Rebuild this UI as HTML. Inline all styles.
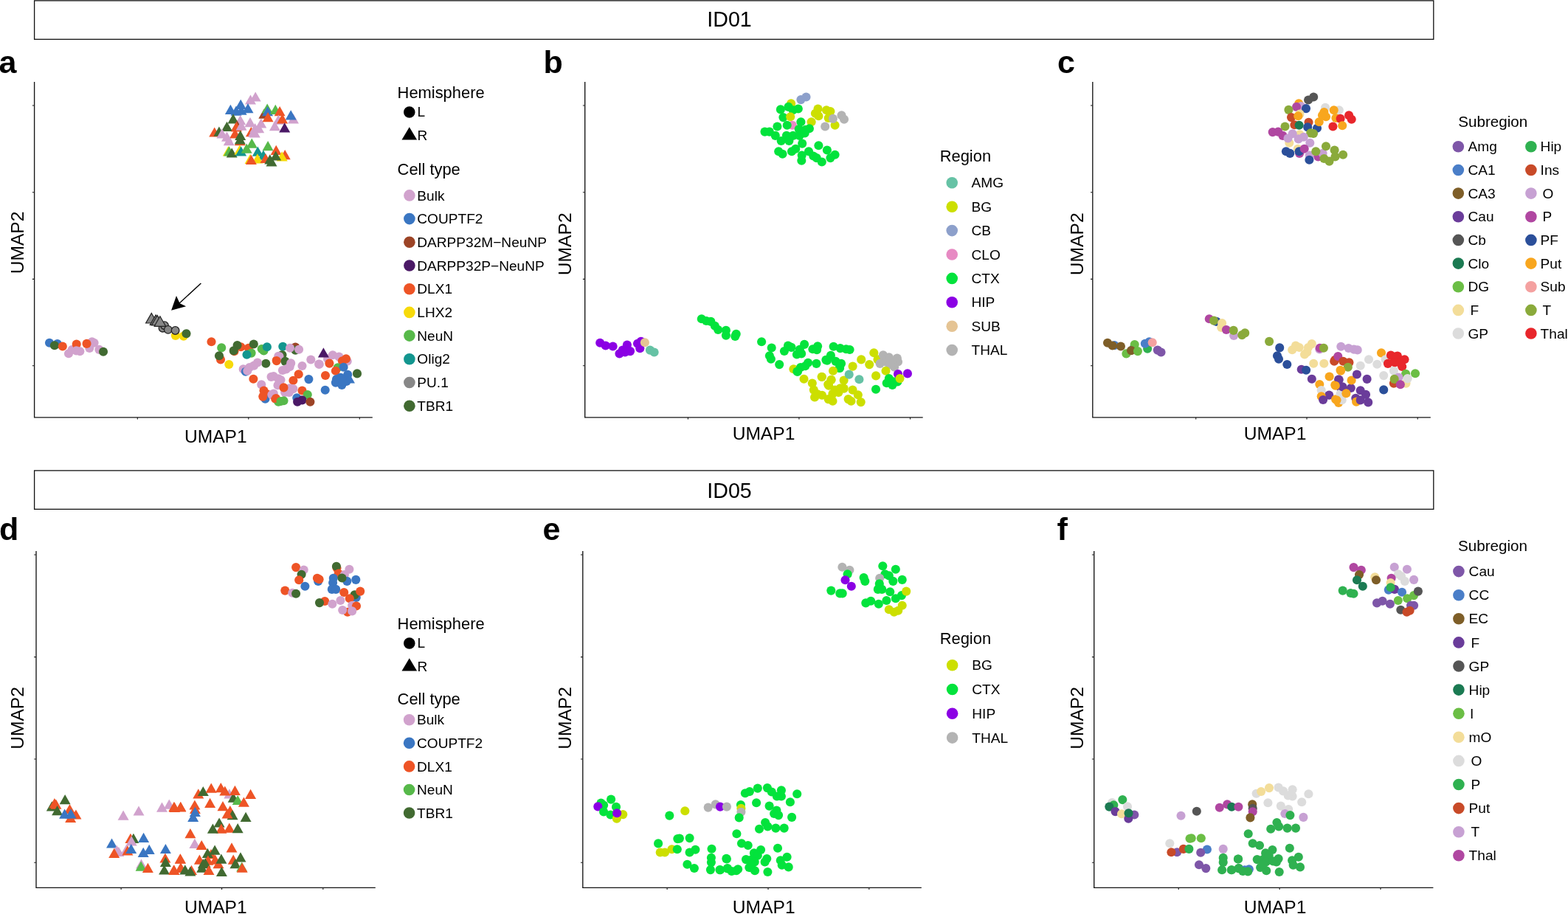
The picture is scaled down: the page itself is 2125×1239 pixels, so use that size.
<!DOCTYPE html>
<html><head><meta charset="utf-8"><title>UMAP figure</title>
<style>html,body{margin:0;padding:0;background:#fff;}svg{display:block;}text{font-family:"Liberation Sans", Arial, sans-serif;fill:#000;}.pl{font-weight:bold;font-size:43px;}.hd{font-size:28.6px;}.ax{font-size:24.6px;}.lt{font-size:21.9px;}.ls{font-size:20.6px;}.li{font-size:19.1px;}</style></head><body>
<svg width="2125" height="1239" viewBox="0 0 2125 1239">
<rect x="0" y="0" width="2125" height="1239" fill="#fff"/>
<rect x="46.6" y="0.9" width="1896.2" height="52.4" fill="none" stroke="#111" stroke-width="1.3"/>
<text class="hd" x="988.5" y="35.5" text-anchor="middle">ID01</text>
<rect x="46.6" y="637.9" width="1896.2" height="52.4" fill="none" stroke="#111" stroke-width="1.3"/>
<text class="hd" x="988.5" y="674.9" text-anchor="middle">ID05</text>
<text class="pl" x="-1.5" y="99">a</text>
<text class="pl" x="736.5" y="99">b</text>
<text class="pl" x="1433" y="99">c</text>
<text class="pl" x="-1.0" y="731.5">d</text>
<text class="pl" x="735.5" y="732">e</text>
<text class="pl" x="1432.5" y="731.5">f</text>
<path d="M46.6 111V565.9H504.8" fill="none" stroke="#151515" stroke-width="1.35"/><path d="M186.3 565.9v2.6M336.8 565.9v2.6M487.3 565.9v2.6M46.6 143h-2.8M46.6 260.7h-2.8M46.6 378.4h-2.8M46.6 495.8h-2.8" fill="none" stroke="#1a1a1a" stroke-width="1.1"/>
<path d="M792.7 111V565.9H1250.7" fill="none" stroke="#151515" stroke-width="1.35"/><path d="M932.4 565.9v2.6M1082.9 565.9v2.6M1233.5 565.9v2.6M792.7 143h-2.8M792.7 260.7h-2.8M792.7 378.4h-2.8M792.7 495.8h-2.8" fill="none" stroke="#1a1a1a" stroke-width="1.1"/>
<path d="M1480.8 111V565.9H1938.8" fill="none" stroke="#151515" stroke-width="1.35"/><path d="M1620.7 565.9v2.6M1771 565.9v2.6M1921.2 565.9v2.6M1480.8 143h-2.8M1480.8 260.7h-2.8M1480.8 378.4h-2.8M1480.8 495.8h-2.8" fill="none" stroke="#1a1a1a" stroke-width="1.1"/>
<path d="M49.0 747V1203.4H508.8" fill="none" stroke="#151515" stroke-width="1.35"/><path d="M164.1 1203.4v2.6M300.6 1203.4v2.6M437.8 1203.4v2.6M49.0 752h-2.8M49.0 890.6h-2.8M49.0 1029h-2.8M49.0 1169.3h-2.8" fill="none" stroke="#1a1a1a" stroke-width="1.1"/>
<path d="M789.8 747V1203.4H1248.8" fill="none" stroke="#151515" stroke-width="1.35"/><path d="M904.1 1203.4v2.6M1041 1203.4v2.6M1177.8 1203.4v2.6M789.8 752h-2.8M789.8 890.6h-2.8M789.8 1029h-2.8M789.8 1169.3h-2.8" fill="none" stroke="#1a1a1a" stroke-width="1.1"/>
<path d="M1482.7 747V1203.4H1942.4" fill="none" stroke="#151515" stroke-width="1.35"/><path d="M1597.2 1203.4v2.6M1734.1 1203.4v2.6M1871 1203.4v2.6M1482.7 752h-2.8M1482.7 890.6h-2.8M1482.7 1029h-2.8M1482.7 1169.3h-2.8" fill="none" stroke="#1a1a1a" stroke-width="1.1"/>
<text class="ax" x="292.3" y="599.6" text-anchor="middle">UMAP1</text>
<text class="ax" x="1035.0" y="595.5" text-anchor="middle">UMAP1</text>
<text class="ax" x="1728.1" y="595.5" text-anchor="middle">UMAP1</text>
<text class="ax" x="292.3" y="1238.3" text-anchor="middle">UMAP1</text>
<text class="ax" x="1035.2" y="1238.3" text-anchor="middle">UMAP1</text>
<text class="ax" x="1728.1" y="1238.3" text-anchor="middle">UMAP1</text>
<text class="ax" x="0" y="0" text-anchor="middle" transform="translate(32.0 329) rotate(-90)">UMAP2</text>
<text class="ax" x="0" y="0" text-anchor="middle" transform="translate(774.2 330.8) rotate(-90)">UMAP2</text>
<text class="ax" x="0" y="0" text-anchor="middle" transform="translate(1467.7 330.8) rotate(-90)">UMAP2</text>
<text class="ax" x="0" y="0" text-anchor="middle" transform="translate(32.2 973.5) rotate(-90)">UMAP2</text>
<text class="ax" x="0" y="0" text-anchor="middle" transform="translate(774.2 973.5) rotate(-90)">UMAP2</text>
<text class="ax" x="0" y="0" text-anchor="middle" transform="translate(1467.7 973.5) rotate(-90)">UMAP2</text>
<path d="M346.2 124.4L353.7 137.6H338.7Z" fill="#D1A2CD"/>
<path d="M339.5 128.4L347.0 141.6H332.0Z" fill="#D1A2CD"/>
<path d="M312.4 141.8L319.9 155.0H304.9Z" fill="#3A76C2"/>
<path d="M320.0 143.5L327.5 156.7H312.5Z" fill="#3A76C2"/>
<path d="M327.1 142.6L334.6 155.8H319.6Z" fill="#3A76C2"/>
<path d="M326.2 134.7L333.7 147.9H318.7Z" fill="#3A76C2"/>
<path d="M336.0 140.0L343.5 153.2H328.5Z" fill="#3A76C2"/>
<path d="M316.0 154.2L323.5 167.4H308.5Z" fill="#416A31"/>
<path d="M325.7 156.0L333.2 169.2H318.2Z" fill="#D1A2CD"/>
<path d="M339.0 159.0L346.5 172.2H331.5Z" fill="#D1A2CD"/>
<path d="M307.5 164.8L315.0 178.0H300.0Z" fill="#416A31"/>
<path d="M321.3 163.3L328.8 176.5H313.8Z" fill="#9C4426"/>
<path d="M320.4 165.3L327.9 178.5H312.9Z" fill="#EE5426"/>
<path d="M327.0 163.5L334.5 176.7H319.5Z" fill="#D1A2CD"/>
<path d="M340.4 172.0L347.9 185.2H332.9Z" fill="#EE5426"/>
<path d="M343.5 172.5L351.0 185.7H336.0Z" fill="#D1A2CD"/>
<path d="M345.7 167.0L353.2 180.2H338.2Z" fill="#D1A2CD"/>
<path d="M353.8 160.4L361.3 173.6H346.3Z" fill="#D1A2CD"/>
<path d="M350.7 167.1L358.2 180.3H343.2Z" fill="#D1A2CD"/>
<path d="M345.3 173.3L352.8 186.5H337.8Z" fill="#D1A2CD"/>
<path d="M290.7 172.4L298.2 185.6H283.2Z" fill="#EE5426"/>
<path d="M296.9 171.5L304.4 184.7H289.4Z" fill="#416A31"/>
<path d="M300.9 174.2L308.4 187.4H293.4Z" fill="#D1A2CD"/>
<path d="M307.5 178.6L315.0 191.8H300.0Z" fill="#D1A2CD"/>
<path d="M318.6 174.2L326.1 187.4H311.1Z" fill="#EE5426"/>
<path d="M325.7 176.8L333.2 190.0H318.2Z" fill="#416A31"/>
<path d="M310.2 184.0L317.7 197.2H302.7Z" fill="#D1A2CD"/>
<path d="M325.3 184.0L332.8 197.2H317.8Z" fill="#EE5426"/>
<path d="M325.3 182.2L332.8 195.4H317.8Z" fill="#416A31"/>
<path d="M357.8 147.5L365.3 160.7H350.3Z" fill="#9C4426"/>
<path d="M362.2 140.4L369.7 153.6H354.7Z" fill="#57B94A"/>
<path d="M362.6 144.0L370.1 157.2H355.1Z" fill="#3A76C2"/>
<path d="M373.3 141.8L380.8 155.0H365.8Z" fill="#57B94A"/>
<path d="M379.1 144.0L386.6 157.2H371.6Z" fill="#EE5426"/>
<path d="M363.1 152.0L370.6 165.2H355.6Z" fill="#EE5426"/>
<path d="M397.5 154.2L405.0 167.4H390.0Z" fill="#D1A2CD"/>
<path d="M394.2 149.3L401.7 162.5H386.7Z" fill="#3A76C2"/>
<path d="M377.3 155.5L384.8 168.7H369.8Z" fill="#D1A2CD"/>
<path d="M382.6 154.2L390.1 167.4H375.1Z" fill="#EE5426"/>
<path d="M372.4 164.0L379.9 177.2H364.9Z" fill="#D1A2CD"/>
<path d="M385.7 166.2L393.2 179.4H378.2Z" fill="#4B1966"/>
<path d="M341.3 187.5L348.8 200.7H333.8Z" fill="#57B94A"/>
<path d="M309.3 198.2L316.8 211.4H301.8Z" fill="#F7DA0A"/>
<path d="M310.6 198.2L318.1 211.4H303.1Z" fill="#57B94A"/>
<path d="M314.2 200.4L321.7 213.6H306.7Z" fill="#416A31"/>
<path d="M324.8 196.4L332.3 209.6H317.3Z" fill="#F7DA0A"/>
<path d="M326.6 198.2L334.1 211.4H319.1Z" fill="#13968F"/>
<path d="M334.2 194.6L341.7 207.8H326.7Z" fill="#57B94A"/>
<path d="M363.1 191.0L370.6 204.2H355.6Z" fill="#57B94A"/>
<path d="M349.3 198.6L356.8 211.8H341.8Z" fill="#13968F"/>
<path d="M356.9 203.5L364.4 216.7H349.4Z" fill="#13968F"/>
<path d="M348.9 208.3L356.4 221.5H341.4Z" fill="#F7DA0A"/>
<path d="M339.1 208.8L346.6 222.0H331.6Z" fill="#F7DA0A"/>
<path d="M340.4 209.7L347.9 222.9H332.9Z" fill="#EE5426"/>
<path d="M374.2 196.8L381.7 210.0H366.7Z" fill="#EE5426"/>
<path d="M386.2 203.0L393.7 216.2H378.7Z" fill="#EE5426"/>
<path d="M382.2 205.3L389.7 218.5H374.7Z" fill="#F7DA0A"/>
<path d="M373.7 204.4L381.2 217.6H366.2Z" fill="#416A31"/>
<path d="M360.0 207.9L367.5 221.1H352.5Z" fill="#EE5426"/>
<path d="M365.8 209.3L373.3 222.5H358.3Z" fill="#416A31"/>
<path d="M368.0 212.4L375.5 225.6H360.5Z" fill="#416A31"/>
<circle cx="67.0" cy="464.7" r="6.05" fill="#3A76C2"/>
<circle cx="77.8" cy="466.1" r="6.05" fill="#3A76C2"/>
<circle cx="73.9" cy="468.3" r="6.05" fill="#416A31"/>
<circle cx="84.8" cy="469.5" r="6.05" fill="#EE5426"/>
<circle cx="93.0" cy="479.2" r="6.05" fill="#D1A2CD"/>
<circle cx="97.6" cy="474.0" r="6.05" fill="#D1A2CD"/>
<circle cx="103.7" cy="466.6" r="6.05" fill="#EE5426"/>
<circle cx="103.4" cy="475.4" r="6.05" fill="#D1A2CD"/>
<circle cx="108.3" cy="476.3" r="6.05" fill="#D1A2CD"/>
<circle cx="124.7" cy="463.2" r="6.05" fill="#D1A2CD"/>
<circle cx="127.6" cy="464.7" r="6.05" fill="#D1A2CD"/>
<circle cx="121.3" cy="472.0" r="6.05" fill="#D1A2CD"/>
<circle cx="117.5" cy="465.9" r="6.05" fill="#EE5426"/>
<circle cx="134.4" cy="473.9" r="6.05" fill="#D1A2CD"/>
<circle cx="140.0" cy="476.8" r="6.05" fill="#416A31"/>
<circle cx="237.9" cy="454.9" r="6.05" fill="#F7DA0A"/>
<circle cx="248.8" cy="455.6" r="6.05" fill="#F7DA0A"/>
<circle cx="252.5" cy="452.3" r="6.05" fill="#416A31"/>
<circle cx="220.5" cy="444.7" r="5.3" fill="#878787" stroke="#222" stroke-width="1.3"/>
<circle cx="223.0" cy="441.2" r="5.3" fill="#878787" stroke="#222" stroke-width="1.3"/>
<path d="M205.3 424.5L213.1 438.0H197.6Z" fill="#878787" stroke="#222" stroke-width="1.2" stroke-linejoin="miter"/>
<path d="M211.1 427.0L218.8 440.5H203.3Z" fill="#878787" stroke="#222" stroke-width="1.2" stroke-linejoin="miter"/>
<path d="M213.2 427.4L220.9 440.9H205.4Z" fill="#878787" stroke="#222" stroke-width="1.2" stroke-linejoin="miter"/>
<path d="M216.9 428.8L224.7 442.3H209.2Z" fill="#878787" stroke="#222" stroke-width="1.2" stroke-linejoin="miter"/>
<circle cx="227.8" cy="446.9" r="5.3" fill="#878787" stroke="#222" stroke-width="1.3"/>
<circle cx="237.6" cy="448.0" r="5.3" fill="#878787" stroke="#222" stroke-width="1.3"/>
<circle cx="286.5" cy="463.3" r="6.05" fill="#EE5426"/>
<circle cx="300.2" cy="471.4" r="6.05" fill="#57B94A"/>
<circle cx="299.0" cy="487.5" r="6.05" fill="#EE5426"/>
<circle cx="297.0" cy="482.3" r="6.05" fill="#416A31"/>
<circle cx="310.3" cy="494.0" r="6.05" fill="#F7DA0A"/>
<circle cx="317.5" cy="476.2" r="6.05" fill="#EE5426"/>
<circle cx="326.4" cy="470.2" r="6.05" fill="#EE5426"/>
<circle cx="321.6" cy="468.1" r="6.05" fill="#416A31"/>
<circle cx="316.7" cy="475.4" r="6.05" fill="#416A31"/>
<circle cx="336.9" cy="471.8" r="6.05" fill="#EE5426"/>
<circle cx="343.8" cy="466.5" r="6.05" fill="#416A31"/>
<circle cx="340.6" cy="478.6" r="6.05" fill="#57B94A"/>
<circle cx="334.5" cy="480.7" r="6.05" fill="#13968F"/>
<circle cx="354.7" cy="473.0" r="6.05" fill="#57B94A"/>
<circle cx="357.5" cy="475.5" r="6.05" fill="#57B94A"/>
<circle cx="361.9" cy="470.2" r="6.05" fill="#13968F"/>
<circle cx="360.3" cy="492.8" r="6.05" fill="#416A31"/>
<circle cx="349.0" cy="491.5" r="6.05" fill="#D1A2CD"/>
<circle cx="344.2" cy="495.6" r="6.05" fill="#D1A2CD"/>
<circle cx="338.1" cy="498.0" r="6.05" fill="#D1A2CD"/>
<circle cx="329.7" cy="500.4" r="6.05" fill="#D1A2CD"/>
<circle cx="332.9" cy="503.7" r="6.05" fill="#3A76C2"/>
<circle cx="335.3" cy="502.8" r="6.05" fill="#D1A2CD"/>
<circle cx="343.4" cy="513.7" r="6.05" fill="#EE5426"/>
<circle cx="367.6" cy="510.9" r="6.05" fill="#D1A2CD"/>
<circle cx="354.3" cy="521.4" r="6.05" fill="#D1A2CD"/>
<circle cx="357.5" cy="529.5" r="6.05" fill="#EE5426"/>
<circle cx="361.9" cy="534.3" r="6.05" fill="#EE5426"/>
<circle cx="359.5" cy="540.8" r="6.05" fill="#3A76C2"/>
<circle cx="356.3" cy="537.6" r="6.05" fill="#EE5426"/>
<circle cx="368.4" cy="535.1" r="6.05" fill="#D1A2CD"/>
<circle cx="373.2" cy="540.8" r="6.05" fill="#EE5426"/>
<circle cx="377.3" cy="544.8" r="6.05" fill="#57B94A"/>
<circle cx="374.9" cy="488.3" r="6.05" fill="#EE5426"/>
<circle cx="377.3" cy="482.7" r="6.05" fill="#D1A2CD"/>
<circle cx="376.5" cy="522.2" r="6.05" fill="#D1A2CD"/>
<circle cx="377.3" cy="513.3" r="6.05" fill="#D1A2CD"/>
<circle cx="383.3" cy="469.8" r="6.05" fill="#13968F"/>
<circle cx="400.3" cy="470.6" r="6.05" fill="#9C4426"/>
<circle cx="400.3" cy="474.6" r="6.05" fill="#416A31"/>
<circle cx="393.0" cy="471.8" r="6.05" fill="#D1A2CD"/>
<circle cx="405.1" cy="473.8" r="6.05" fill="#D1A2CD"/>
<circle cx="382.5" cy="481.1" r="6.05" fill="#416A31"/>
<circle cx="378.5" cy="483.1" r="6.05" fill="#D1A2CD"/>
<circle cx="374.8" cy="489.1" r="6.05" fill="#EE5426"/>
<circle cx="386.5" cy="489.9" r="6.05" fill="#416A31"/>
<circle cx="394.2" cy="492.4" r="6.05" fill="#D1A2CD"/>
<circle cx="392.6" cy="497.2" r="6.05" fill="#D1A2CD"/>
<circle cx="387.8" cy="500.4" r="6.05" fill="#D1A2CD"/>
<circle cx="382.9" cy="502.0" r="6.05" fill="#D1A2CD"/>
<circle cx="409.5" cy="496.0" r="6.05" fill="#D1A2CD"/>
<circle cx="421.3" cy="487.5" r="6.05" fill="#D1A2CD"/>
<circle cx="432.1" cy="493.6" r="6.05" fill="#D1A2CD"/>
<circle cx="450.9" cy="481.3" r="6.05" fill="#D1A2CD"/>
<circle cx="459.4" cy="483.6" r="6.05" fill="#D1A2CD"/>
<circle cx="444.1" cy="486.4" r="6.05" fill="#D1A2CD"/>
<circle cx="470.7" cy="489.8" r="6.05" fill="#D1A2CD"/>
<circle cx="432.8" cy="493.7" r="6.05" fill="#D1A2CD"/>
<circle cx="446.4" cy="492.6" r="6.05" fill="#EE5426"/>
<circle cx="463.9" cy="489.2" r="6.05" fill="#EE5426"/>
<circle cx="469.0" cy="486.4" r="6.05" fill="#EE5426"/>
<circle cx="457.7" cy="498.2" r="6.05" fill="#57B94A"/>
<circle cx="465.6" cy="497.7" r="6.05" fill="#3A76C2"/>
<circle cx="454.9" cy="502.8" r="6.05" fill="#EE5426"/>
<circle cx="441.0" cy="509.0" r="6.05" fill="#EE5426"/>
<circle cx="404.7" cy="507.3" r="6.05" fill="#EE5426"/>
<circle cx="397.4" cy="515.8" r="6.05" fill="#EE5426"/>
<circle cx="418.4" cy="514.1" r="6.05" fill="#3A76C2"/>
<circle cx="471.2" cy="507.9" r="6.05" fill="#3A76C2"/>
<circle cx="456.0" cy="514.1" r="6.05" fill="#3A76C2"/>
<circle cx="461.6" cy="511.8" r="6.05" fill="#3A76C2"/>
<circle cx="454.9" cy="518.6" r="6.05" fill="#3A76C2"/>
<circle cx="463.3" cy="522.0" r="6.05" fill="#3A76C2"/>
<circle cx="469.5" cy="516.9" r="6.05" fill="#3A76C2"/>
<circle cx="464.8" cy="517.4" r="6.05" fill="#3A76C2"/>
<circle cx="484.0" cy="506.4" r="6.05" fill="#416A31"/>
<circle cx="440.7" cy="528.8" r="6.05" fill="#3A76C2"/>
<circle cx="370.8" cy="510.1" r="6.05" fill="#D1A2CD"/>
<circle cx="380.5" cy="515.0" r="6.05" fill="#D1A2CD"/>
<circle cx="377.3" cy="521.4" r="6.05" fill="#D1A2CD"/>
<circle cx="392.6" cy="526.3" r="6.05" fill="#D1A2CD"/>
<circle cx="397.4" cy="527.1" r="6.05" fill="#D1A2CD"/>
<circle cx="386.1" cy="531.9" r="6.05" fill="#D1A2CD"/>
<circle cx="391.8" cy="531.9" r="6.05" fill="#D1A2CD"/>
<circle cx="384.5" cy="525.4" r="6.05" fill="#EE5426"/>
<circle cx="370.8" cy="533.5" r="6.05" fill="#D1A2CD"/>
<circle cx="409.5" cy="529.5" r="6.05" fill="#EE5426"/>
<circle cx="416.8" cy="535.1" r="6.05" fill="#57B94A"/>
<circle cx="402.3" cy="539.2" r="6.05" fill="#3A76C2"/>
<circle cx="409.5" cy="542.4" r="6.05" fill="#4B1966"/>
<circle cx="403.1" cy="544.8" r="6.05" fill="#4B1966"/>
<circle cx="420.4" cy="544.8" r="6.05" fill="#9C4426"/>
<circle cx="374.0" cy="540.0" r="6.05" fill="#EE5426"/>
<circle cx="380.5" cy="544.0" r="6.05" fill="#57B94A"/>
<circle cx="384.5" cy="543.2" r="6.05" fill="#57B94A"/>
<path d="M438.4 471.3L445.9 484.5H430.9Z" fill="#4B1966"/>
<path d="M473.5 506.3L481.0 519.5H466.0Z" fill="#3A76C2"/>
<circle cx="1085.4" cy="135.1" r="6.05" fill="#8DA0CB"/>
<circle cx="1092.5" cy="131.5" r="6.05" fill="#8DA0CB"/>
<circle cx="1072.1" cy="140.4" r="6.05" fill="#CCDF00"/>
<circle cx="1057.9" cy="148.4" r="6.05" fill="#03E33C"/>
<circle cx="1068.5" cy="144.9" r="6.05" fill="#03E33C"/>
<circle cx="1074.7" cy="149.3" r="6.05" fill="#03E33C"/>
<circle cx="1081.8" cy="147.5" r="6.05" fill="#03E33C"/>
<circle cx="1061.4" cy="159.1" r="6.05" fill="#03E33C"/>
<circle cx="1071.2" cy="158.2" r="6.05" fill="#CCDF00"/>
<circle cx="1073.8" cy="169.7" r="6.05" fill="#E78AC3"/>
<circle cx="1066.7" cy="169.7" r="6.05" fill="#03E33C"/>
<circle cx="1085.4" cy="165.3" r="6.05" fill="#03E33C"/>
<circle cx="1053.4" cy="171.5" r="6.05" fill="#03E33C"/>
<circle cx="1036.5" cy="178.6" r="6.05" fill="#03E33C"/>
<circle cx="1042.8" cy="178.6" r="6.05" fill="#03E33C"/>
<circle cx="1050.8" cy="183.9" r="6.05" fill="#03E33C"/>
<circle cx="1058.7" cy="191.0" r="6.05" fill="#03E33C"/>
<circle cx="1065.9" cy="183.9" r="6.05" fill="#03E33C"/>
<circle cx="1069.4" cy="191.0" r="6.05" fill="#03E33C"/>
<circle cx="1074.7" cy="183.9" r="6.05" fill="#03E33C"/>
<circle cx="1082.7" cy="175.1" r="6.05" fill="#03E33C"/>
<circle cx="1083.6" cy="183.9" r="6.05" fill="#03E33C"/>
<circle cx="1099.6" cy="165.3" r="6.05" fill="#CCDF00"/>
<circle cx="1090.7" cy="180.4" r="6.05" fill="#03E33C"/>
<circle cx="1096.9" cy="174.2" r="6.05" fill="#03E33C"/>
<circle cx="1087.2" cy="194.6" r="6.05" fill="#03E33C"/>
<circle cx="1055.2" cy="205.3" r="6.05" fill="#03E33C"/>
<circle cx="1060.5" cy="208.8" r="6.05" fill="#03E33C"/>
<circle cx="1073.0" cy="205.3" r="6.05" fill="#03E33C"/>
<circle cx="1078.3" cy="201.7" r="6.05" fill="#03E33C"/>
<circle cx="1086.3" cy="217.7" r="6.05" fill="#03E33C"/>
<circle cx="1096.0" cy="205.3" r="6.05" fill="#03E33C"/>
<circle cx="1102.3" cy="211.5" r="6.05" fill="#03E33C"/>
<circle cx="1109.4" cy="197.3" r="6.05" fill="#03E33C"/>
<circle cx="1113.8" cy="219.5" r="6.05" fill="#03E33C"/>
<circle cx="1120.9" cy="203.5" r="6.05" fill="#03E33C"/>
<circle cx="1131.6" cy="209.7" r="6.05" fill="#03E33C"/>
<circle cx="1125.4" cy="214.1" r="6.05" fill="#03E33C"/>
<circle cx="1106.7" cy="214.1" r="6.05" fill="#03E33C"/>
<circle cx="1086.7" cy="210.6" r="6.05" fill="#03E33C"/>
<circle cx="1091.8" cy="175.8" r="6.05" fill="#03E33C"/>
<circle cx="1108.5" cy="147.5" r="6.05" fill="#CCDF00"/>
<circle cx="1104.9" cy="153.7" r="6.05" fill="#CCDF00"/>
<circle cx="1109.4" cy="157.3" r="6.05" fill="#CCDF00"/>
<circle cx="1120.0" cy="149.3" r="6.05" fill="#CCDF00"/>
<circle cx="1125.4" cy="151.1" r="6.05" fill="#CCDF00"/>
<circle cx="1122.7" cy="160.0" r="6.05" fill="#CCDF00"/>
<circle cx="1131.6" cy="169.7" r="6.05" fill="#CCDF00"/>
<circle cx="1118.2" cy="171.5" r="6.05" fill="#B3B3B3"/>
<circle cx="1128.9" cy="160.9" r="6.05" fill="#B3B3B3"/>
<circle cx="1140.5" cy="156.4" r="6.05" fill="#B3B3B3"/>
<circle cx="1144.0" cy="161.7" r="6.05" fill="#B3B3B3"/>
<circle cx="813.2" cy="464.8" r="6.05" fill="#8B00E4"/>
<circle cx="820.7" cy="468.5" r="6.05" fill="#8B00E4"/>
<circle cx="830.6" cy="469.5" r="6.05" fill="#8B00E4"/>
<circle cx="839.5" cy="479.4" r="6.05" fill="#8B00E4"/>
<circle cx="843.8" cy="474.6" r="6.05" fill="#8B00E4"/>
<circle cx="849.9" cy="467.6" r="6.05" fill="#8B00E4"/>
<circle cx="847.1" cy="477.5" r="6.05" fill="#8B00E4"/>
<circle cx="854.1" cy="476.1" r="6.05" fill="#8B00E4"/>
<circle cx="864.0" cy="465.7" r="6.05" fill="#8B00E4"/>
<circle cx="868.7" cy="462.9" r="6.05" fill="#8B00E4"/>
<circle cx="867.3" cy="472.3" r="6.05" fill="#8B00E4"/>
<circle cx="873.9" cy="464.3" r="6.05" fill="#E5C494"/>
<circle cx="880.9" cy="474.6" r="6.05" fill="#66C2A5"/>
<circle cx="886.6" cy="477.5" r="6.05" fill="#66C2A5"/>
<circle cx="950.8" cy="432.3" r="6.05" fill="#03E33C"/>
<circle cx="957.2" cy="435.0" r="6.05" fill="#03E33C"/>
<circle cx="963.4" cy="435.9" r="6.05" fill="#03E33C"/>
<circle cx="968.8" cy="441.7" r="6.05" fill="#03E33C"/>
<circle cx="973.2" cy="447.0" r="6.05" fill="#03E33C"/>
<circle cx="983.9" cy="447.9" r="6.05" fill="#03E33C"/>
<circle cx="983.9" cy="454.6" r="6.05" fill="#03E33C"/>
<circle cx="997.7" cy="452.8" r="6.05" fill="#03E33C"/>
<circle cx="996.3" cy="455.9" r="6.05" fill="#03E33C"/>
<circle cx="1032.1" cy="463.3" r="6.05" fill="#03E33C"/>
<circle cx="1045.7" cy="471.5" r="6.05" fill="#03E33C"/>
<circle cx="1042.9" cy="482.2" r="6.05" fill="#03E33C"/>
<circle cx="1044.9" cy="486.7" r="6.05" fill="#03E33C"/>
<circle cx="1056.2" cy="494.1" r="6.05" fill="#03E33C"/>
<circle cx="1062.9" cy="476.0" r="6.05" fill="#03E33C"/>
<circle cx="1068.0" cy="468.6" r="6.05" fill="#03E33C"/>
<circle cx="1072.5" cy="470.9" r="6.05" fill="#03E33C"/>
<circle cx="1079.9" cy="480.5" r="6.05" fill="#03E33C"/>
<circle cx="1083.8" cy="473.7" r="6.05" fill="#03E33C"/>
<circle cx="1090.1" cy="466.9" r="6.05" fill="#03E33C"/>
<circle cx="1086.1" cy="479.4" r="6.05" fill="#03E33C"/>
<circle cx="1101.4" cy="473.2" r="6.05" fill="#03E33C"/>
<circle cx="1108.1" cy="469.2" r="6.05" fill="#03E33C"/>
<circle cx="1107.0" cy="474.3" r="6.05" fill="#03E33C"/>
<circle cx="1075.4" cy="500.3" r="6.05" fill="#CCDF00"/>
<circle cx="1095.1" cy="491.8" r="6.05" fill="#03E33C"/>
<circle cx="1106.4" cy="492.9" r="6.05" fill="#03E33C"/>
<circle cx="1085.0" cy="498.0" r="6.05" fill="#03E33C"/>
<circle cx="1081.0" cy="503.7" r="6.05" fill="#03E33C"/>
<circle cx="1091.2" cy="496.3" r="6.05" fill="#03E33C"/>
<circle cx="1080.4" cy="503.6" r="6.05" fill="#03E33C"/>
<circle cx="1119.4" cy="487.9" r="6.05" fill="#03E33C"/>
<circle cx="1129.6" cy="469.7" r="6.05" fill="#03E33C"/>
<circle cx="1138.7" cy="472.1" r="6.05" fill="#03E33C"/>
<circle cx="1146.7" cy="473.3" r="6.05" fill="#03E33C"/>
<circle cx="1151.6" cy="474.0" r="6.05" fill="#03E33C"/>
<circle cx="1125.9" cy="481.9" r="6.05" fill="#03E33C"/>
<circle cx="1121.0" cy="488.6" r="6.05" fill="#03E33C"/>
<circle cx="1132.6" cy="489.9" r="6.05" fill="#03E33C"/>
<circle cx="1140.0" cy="492.9" r="6.05" fill="#03E33C"/>
<circle cx="1138.1" cy="499.0" r="6.05" fill="#03E33C"/>
<circle cx="1137.7" cy="499.0" r="6.05" fill="#03E33C"/>
<circle cx="1129.0" cy="502.7" r="6.05" fill="#CCDF00"/>
<circle cx="1113.7" cy="510.7" r="6.05" fill="#CCDF00"/>
<circle cx="1089.5" cy="513.8" r="6.05" fill="#CCDF00"/>
<circle cx="1113.8" cy="511.0" r="6.05" fill="#CCDF00"/>
<circle cx="1100.8" cy="519.5" r="6.05" fill="#CCDF00"/>
<circle cx="1102.8" cy="528.6" r="6.05" fill="#CCDF00"/>
<circle cx="1104.1" cy="538.5" r="6.05" fill="#CCDF00"/>
<circle cx="1114.0" cy="535.8" r="6.05" fill="#CCDF00"/>
<circle cx="1122.6" cy="541.1" r="6.05" fill="#CCDF00"/>
<circle cx="1128.5" cy="543.7" r="6.05" fill="#CCDF00"/>
<circle cx="1126.5" cy="514.8" r="6.05" fill="#CCDF00"/>
<circle cx="1123.2" cy="522.7" r="6.05" fill="#CCDF00"/>
<circle cx="1131.8" cy="528.6" r="6.05" fill="#CCDF00"/>
<circle cx="1136.4" cy="531.9" r="6.05" fill="#CCDF00"/>
<circle cx="1122.2" cy="521.1" r="6.05" fill="#CCDF00"/>
<circle cx="1126.5" cy="515.0" r="6.05" fill="#CCDF00"/>
<circle cx="1143.6" cy="515.6" r="6.05" fill="#CCDF00"/>
<circle cx="1143.7" cy="526.6" r="6.05" fill="#CCDF00"/>
<circle cx="1155.5" cy="528.6" r="6.05" fill="#CCDF00"/>
<circle cx="1162.8" cy="535.2" r="6.05" fill="#CCDF00"/>
<circle cx="1149.6" cy="541.1" r="6.05" fill="#CCDF00"/>
<circle cx="1153.5" cy="543.7" r="6.05" fill="#CCDF00"/>
<circle cx="1166.7" cy="545.1" r="6.05" fill="#CCDF00"/>
<circle cx="1108.0" cy="534.3" r="6.05" fill="#CCDF00"/>
<circle cx="1138.7" cy="526.3" r="6.05" fill="#CCDF00"/>
<circle cx="1128.4" cy="533.9" r="6.05" fill="#CCDF00"/>
<circle cx="1150.7" cy="507.6" r="6.05" fill="#66C2A5"/>
<circle cx="1164.4" cy="514.3" r="6.05" fill="#66C2A5"/>
<circle cx="1155.6" cy="496.6" r="6.05" fill="#CCDF00"/>
<circle cx="1167.2" cy="487.4" r="6.05" fill="#CCDF00"/>
<circle cx="1178.2" cy="494.1" r="6.05" fill="#CCDF00"/>
<circle cx="1184.3" cy="478.2" r="6.05" fill="#CCDF00"/>
<circle cx="1189.5" cy="487.4" r="6.05" fill="#CCDF00"/>
<circle cx="1196.9" cy="481.3" r="6.05" fill="#B3B3B3"/>
<circle cx="1204.8" cy="484.4" r="6.05" fill="#B3B3B3"/>
<circle cx="1215.8" cy="485.6" r="6.05" fill="#B3B3B3"/>
<circle cx="1217.0" cy="490.5" r="6.05" fill="#B3B3B3"/>
<circle cx="1192.6" cy="492.9" r="6.05" fill="#B3B3B3"/>
<circle cx="1205.4" cy="494.1" r="6.05" fill="#B3B3B3"/>
<circle cx="1212.1" cy="497.8" r="6.05" fill="#B3B3B3"/>
<circle cx="1198.2" cy="488.7" r="6.05" fill="#B3B3B3"/>
<circle cx="1209.5" cy="488.7" r="6.05" fill="#B3B3B3"/>
<circle cx="1200.9" cy="490.8" r="6.05" fill="#B3B3B3"/>
<circle cx="1206.7" cy="493.2" r="6.05" fill="#B3B3B3"/>
<circle cx="1200.5" cy="502.7" r="6.05" fill="#CCDF00"/>
<circle cx="1187.1" cy="509.4" r="6.05" fill="#CCDF00"/>
<circle cx="1187.0" cy="527.8" r="6.05" fill="#03E33C"/>
<circle cx="1217.0" cy="507.0" r="6.05" fill="#8B00E4"/>
<circle cx="1229.9" cy="506.4" r="6.05" fill="#8B00E4"/>
<circle cx="1204.8" cy="513.1" r="6.05" fill="#03E33C"/>
<circle cx="1201.7" cy="519.2" r="6.05" fill="#03E33C"/>
<circle cx="1210.9" cy="517.4" r="6.05" fill="#03E33C"/>
<circle cx="1209.4" cy="522.0" r="6.05" fill="#03E33C"/>
<circle cx="1216.3" cy="517.5" r="6.05" fill="#03E33C"/>
<circle cx="1219.5" cy="513.1" r="6.05" fill="#CCDF00"/>
<circle cx="1773.1" cy="135.5" r="6.05" fill="#555555"/>
<circle cx="1780.2" cy="131.5" r="6.05" fill="#555555"/>
<circle cx="1760.2" cy="140.4" r="6.05" fill="#F8A61E"/>
<circle cx="1763.3" cy="144.0" r="6.05" fill="#C7A1D3"/>
<circle cx="1757.1" cy="144.9" r="6.05" fill="#B047A1"/>
<circle cx="1770.0" cy="147.1" r="6.05" fill="#2B4F9A"/>
<circle cx="1746.4" cy="148.9" r="6.05" fill="#8AAA3B"/>
<circle cx="1761.5" cy="154.6" r="6.05" fill="#F3DD99"/>
<circle cx="1750.0" cy="159.1" r="6.05" fill="#C84A28"/>
<circle cx="1759.3" cy="157.3" r="6.05" fill="#F8A61E"/>
<circle cx="1754.4" cy="169.3" r="6.05" fill="#C84A28"/>
<circle cx="1760.6" cy="169.7" r="6.05" fill="#1B7A52"/>
<circle cx="1773.5" cy="165.7" r="6.05" fill="#C84A28"/>
<circle cx="1741.5" cy="171.5" r="6.05" fill="#8AAA3B"/>
<circle cx="1772.2" cy="172.4" r="6.05" fill="#2B4F9A"/>
<circle cx="1785.0" cy="173.7" r="6.05" fill="#2B4F9A"/>
<circle cx="1776.2" cy="180.4" r="6.05" fill="#8AAA3B"/>
<circle cx="1780.0" cy="181.0" r="6.05" fill="#8AAA3B"/>
<circle cx="1787.7" cy="165.3" r="6.05" fill="#F8A61E"/>
<circle cx="1796.1" cy="145.8" r="6.05" fill="#DCDCDC"/>
<circle cx="1814.8" cy="149.3" r="6.05" fill="#DCDCDC"/>
<circle cx="1794.4" cy="152.0" r="6.05" fill="#F8A61E"/>
<circle cx="1797.0" cy="158.2" r="6.05" fill="#F8A61E"/>
<circle cx="1807.7" cy="149.3" r="6.05" fill="#F8A61E"/>
<circle cx="1792.0" cy="156.3" r="6.05" fill="#F8A61E"/>
<circle cx="1810.4" cy="160.0" r="6.05" fill="#F8A61E"/>
<circle cx="1816.6" cy="160.9" r="6.05" fill="#E8262B"/>
<circle cx="1828.1" cy="156.4" r="6.05" fill="#E8262B"/>
<circle cx="1831.7" cy="161.7" r="6.05" fill="#E8262B"/>
<circle cx="1819.2" cy="170.2" r="6.05" fill="#F8A61E"/>
<circle cx="1806.4" cy="171.5" r="6.05" fill="#E8262B"/>
<circle cx="1724.7" cy="179.1" r="6.05" fill="#B047A1"/>
<circle cx="1732.2" cy="178.6" r="6.05" fill="#B047A1"/>
<circle cx="1738.4" cy="183.9" r="6.05" fill="#B047A1"/>
<circle cx="1747.3" cy="193.7" r="6.05" fill="#F3DD99"/>
<circle cx="1761.5" cy="182.2" r="6.05" fill="#F3DD99"/>
<circle cx="1745.5" cy="187.5" r="6.05" fill="#C7A1D3"/>
<circle cx="1751.7" cy="181.3" r="6.05" fill="#C7A1D3"/>
<circle cx="1759.7" cy="188.4" r="6.05" fill="#C7A1D3"/>
<circle cx="1766.8" cy="185.7" r="6.05" fill="#C7A1D3"/>
<circle cx="1775.3" cy="193.7" r="6.05" fill="#C7A1D3"/>
<circle cx="1758.8" cy="201.7" r="6.05" fill="#F3DD99"/>
<circle cx="1742.9" cy="205.3" r="6.05" fill="#2B4F9A"/>
<circle cx="1748.2" cy="207.9" r="6.05" fill="#2B4F9A"/>
<circle cx="1761.1" cy="207.9" r="6.05" fill="#B047A1"/>
<circle cx="1760.6" cy="205.3" r="6.05" fill="#2B4F9A"/>
<circle cx="1767.7" cy="201.7" r="6.05" fill="#B047A1"/>
<circle cx="1774.8" cy="210.6" r="6.05" fill="#C7A1D3"/>
<circle cx="1774.4" cy="216.8" r="6.05" fill="#2B4F9A"/>
<circle cx="1786.4" cy="212.4" r="6.05" fill="#B047A1"/>
<circle cx="1792.6" cy="207.9" r="6.05" fill="#C7A1D3"/>
<circle cx="1783.3" cy="205.3" r="6.05" fill="#8AAA3B"/>
<circle cx="1797.0" cy="198.2" r="6.05" fill="#8AAA3B"/>
<circle cx="1808.6" cy="203.5" r="6.05" fill="#8AAA3B"/>
<circle cx="1794.4" cy="215.0" r="6.05" fill="#8AAA3B"/>
<circle cx="1801.5" cy="218.6" r="6.05" fill="#8AAA3B"/>
<circle cx="1809.5" cy="212.4" r="6.05" fill="#8AAA3B"/>
<circle cx="1820.1" cy="209.7" r="6.05" fill="#8AAA3B"/>
<circle cx="1501.0" cy="464.8" r="6.05" fill="#7E5E28"/>
<circle cx="1510.4" cy="468.1" r="6.05" fill="#4A7EC8"/>
<circle cx="1507.6" cy="468.5" r="6.05" fill="#7E5E28"/>
<circle cx="1518.9" cy="469.5" r="6.05" fill="#7E5E28"/>
<circle cx="1536.8" cy="471.4" r="6.05" fill="#4A7EC8"/>
<circle cx="1537.7" cy="467.1" r="6.05" fill="#6BBE45"/>
<circle cx="1526.4" cy="479.4" r="6.05" fill="#6BBE45"/>
<circle cx="1533.0" cy="475.1" r="6.05" fill="#7E5E28"/>
<circle cx="1541.9" cy="476.1" r="6.05" fill="#6BBE45"/>
<circle cx="1555.1" cy="472.8" r="6.05" fill="#2FB150"/>
<circle cx="1551.8" cy="465.7" r="6.05" fill="#4A7EC8"/>
<circle cx="1557.5" cy="463.4" r="6.05" fill="#4A7EC8"/>
<circle cx="1561.7" cy="464.3" r="6.05" fill="#F4A1A0"/>
<circle cx="1568.8" cy="474.6" r="6.05" fill="#7E56A8"/>
<circle cx="1573.5" cy="477.5" r="6.05" fill="#7E56A8"/>
<circle cx="1638.8" cy="432.3" r="6.05" fill="#B047A1"/>
<circle cx="1648.6" cy="435.9" r="6.05" fill="#2B4F9A"/>
<circle cx="1645.0" cy="434.6" r="6.05" fill="#8AAA3B"/>
<circle cx="1656.1" cy="438.1" r="6.05" fill="#F3DD99"/>
<circle cx="1655.2" cy="443.9" r="6.05" fill="#F3DD99"/>
<circle cx="1661.9" cy="447.0" r="6.05" fill="#B047A1"/>
<circle cx="1672.1" cy="455.0" r="6.05" fill="#C7A1D3"/>
<circle cx="1671.7" cy="447.9" r="6.05" fill="#8AAA3B"/>
<circle cx="1683.2" cy="454.1" r="6.05" fill="#8AAA3B"/>
<circle cx="1687.2" cy="451.4" r="6.05" fill="#8AAA3B"/>
<circle cx="1720.1" cy="462.9" r="6.05" fill="#8AAA3B"/>
<circle cx="1734.2" cy="471.4" r="6.05" fill="#2B4F9A"/>
<circle cx="1731.0" cy="482.3" r="6.05" fill="#2B4F9A"/>
<circle cx="1733.0" cy="486.7" r="6.05" fill="#2B4F9A"/>
<circle cx="1744.3" cy="494.0" r="6.05" fill="#2B4F9A"/>
<circle cx="1751.2" cy="474.2" r="6.05" fill="#F3DD99"/>
<circle cx="1756.0" cy="468.6" r="6.05" fill="#F3DD99"/>
<circle cx="1760.8" cy="471.0" r="6.05" fill="#F3DD99"/>
<circle cx="1771.3" cy="477.4" r="6.05" fill="#F3DD99"/>
<circle cx="1768.0" cy="480.5" r="6.05" fill="#F3DD99"/>
<circle cx="1777.8" cy="466.1" r="6.05" fill="#F3DD99"/>
<circle cx="1773.0" cy="471.0" r="6.05" fill="#F3DD99"/>
<circle cx="1780.2" cy="492.8" r="6.05" fill="#F3DD99"/>
<circle cx="1794.3" cy="492.8" r="6.05" fill="#F3DD99"/>
<circle cx="1763.7" cy="500.8" r="6.05" fill="#6A3C9A"/>
<circle cx="1770.1" cy="501.7" r="6.05" fill="#2B4F9A"/>
<circle cx="1777.8" cy="513.8" r="6.05" fill="#6A3C9A"/>
<circle cx="1788.3" cy="473.4" r="6.05" fill="#C7A1D3"/>
<circle cx="1788.7" cy="471.8" r="6.05" fill="#B047A1"/>
<circle cx="1793.9" cy="471.8" r="6.05" fill="#8AAA3B"/>
<circle cx="1817.3" cy="469.8" r="6.05" fill="#C7A1D3"/>
<circle cx="1827.6" cy="472.0" r="6.05" fill="#C7A1D3"/>
<circle cx="1834.9" cy="473.6" r="6.05" fill="#C7A1D3"/>
<circle cx="1839.7" cy="474.4" r="6.05" fill="#C7A1D3"/>
<circle cx="1809.3" cy="487.9" r="6.05" fill="#C84A28"/>
<circle cx="1808.2" cy="489.7" r="6.05" fill="#C84A28"/>
<circle cx="1813.3" cy="483.1" r="6.05" fill="#B047A1"/>
<circle cx="1820.3" cy="489.7" r="6.05" fill="#C84A28"/>
<circle cx="1828.4" cy="491.3" r="6.05" fill="#C84A28"/>
<circle cx="1826.8" cy="497.8" r="6.05" fill="#8AAA3B"/>
<circle cx="1817.1" cy="502.6" r="6.05" fill="#F8A61E"/>
<circle cx="1788.3" cy="521.0" r="6.05" fill="#F8A61E"/>
<circle cx="1801.6" cy="510.5" r="6.05" fill="#F8A61E"/>
<circle cx="1816.5" cy="501.7" r="6.05" fill="#F8A61E"/>
<circle cx="1790.7" cy="529.1" r="6.05" fill="#DCDCDC"/>
<circle cx="1801.2" cy="535.6" r="6.05" fill="#6A3C9A"/>
<circle cx="1790.7" cy="537.2" r="6.05" fill="#F8A61E"/>
<circle cx="1793.1" cy="542.0" r="6.05" fill="#6A3C9A"/>
<circle cx="1810.1" cy="541.2" r="6.05" fill="#F8A61E"/>
<circle cx="1814.1" cy="546.0" r="6.05" fill="#F8A61E"/>
<circle cx="1814.1" cy="514.6" r="6.05" fill="#6A3C9A"/>
<circle cx="1809.3" cy="521.8" r="6.05" fill="#F8A61E"/>
<circle cx="1816.5" cy="525.1" r="6.05" fill="#6A3C9A"/>
<circle cx="1816.5" cy="533.9" r="6.05" fill="#DCDCDC"/>
<circle cx="1818.7" cy="542.2" r="6.05" fill="#DCDCDC"/>
<circle cx="1811.5" cy="542.2" r="6.05" fill="#F8A61E"/>
<circle cx="1814.7" cy="514.7" r="6.05" fill="#6A3C9A"/>
<circle cx="1819.5" cy="524.4" r="6.05" fill="#6A3C9A"/>
<circle cx="1830.8" cy="526.0" r="6.05" fill="#6A3C9A"/>
<circle cx="1809.8" cy="522.8" r="6.05" fill="#F8A61E"/>
<circle cx="1824.4" cy="533.3" r="6.05" fill="#F8A61E"/>
<circle cx="1843.7" cy="529.3" r="6.05" fill="#6A3C9A"/>
<circle cx="1851.0" cy="534.9" r="6.05" fill="#6A3C9A"/>
<circle cx="1837.3" cy="539.7" r="6.05" fill="#6A3C9A"/>
<circle cx="1838.1" cy="544.6" r="6.05" fill="#F8A61E"/>
<circle cx="1843.7" cy="542.4" r="6.05" fill="#6A3C9A"/>
<circle cx="1854.2" cy="545.4" r="6.05" fill="#6A3C9A"/>
<circle cx="1831.6" cy="515.5" r="6.05" fill="#F8A61E"/>
<circle cx="1838.9" cy="507.5" r="6.05" fill="#6A3C9A"/>
<circle cx="1852.6" cy="513.9" r="6.05" fill="#6A3C9A"/>
<circle cx="1875.2" cy="528.4" r="6.05" fill="#2B4F9A"/>
<circle cx="1843.7" cy="495.8" r="6.05" fill="#DCDCDC"/>
<circle cx="1855.0" cy="487.3" r="6.05" fill="#DCDCDC"/>
<circle cx="1866.3" cy="493.7" r="6.05" fill="#DCDCDC"/>
<circle cx="1872.0" cy="478.4" r="6.05" fill="#F8A61E"/>
<circle cx="1877.6" cy="487.3" r="6.05" fill="#DCDCDC"/>
<circle cx="1888.9" cy="502.6" r="6.05" fill="#DCDCDC"/>
<circle cx="1875.2" cy="509.1" r="6.05" fill="#DCDCDC"/>
<circle cx="1905.5" cy="519.6" r="6.05" fill="#F3DD99"/>
<circle cx="1907.5" cy="513.1" r="6.05" fill="#DCDCDC"/>
<circle cx="1884.9" cy="481.6" r="6.05" fill="#E8262B"/>
<circle cx="1893.9" cy="482.6" r="6.05" fill="#E8262B"/>
<circle cx="1889.0" cy="490.8" r="6.05" fill="#E8262B"/>
<circle cx="1896.0" cy="488.0" r="6.05" fill="#E8262B"/>
<circle cx="1892.2" cy="483.2" r="6.05" fill="#E8262B"/>
<circle cx="1903.5" cy="487.3" r="6.05" fill="#E8262B"/>
<circle cx="1880.9" cy="492.9" r="6.05" fill="#E8262B"/>
<circle cx="1890.5" cy="491.3" r="6.05" fill="#E8262B"/>
<circle cx="1900.2" cy="497.0" r="6.05" fill="#E8262B"/>
<circle cx="1897.8" cy="492.1" r="6.05" fill="#E8262B"/>
<circle cx="1905.1" cy="506.7" r="6.05" fill="#6BBE45"/>
<circle cx="1918.0" cy="506.3" r="6.05" fill="#6BBE45"/>
<circle cx="1907.5" cy="513.1" r="6.05" fill="#DCDCDC"/>
<circle cx="1895.4" cy="511.5" r="6.05" fill="#C7A1D3"/>
<circle cx="1888.9" cy="519.6" r="6.05" fill="#C84A28"/>
<circle cx="1889.7" cy="513.9" r="6.05" fill="#8AAA3B"/>
<circle cx="1897.8" cy="521.2" r="6.05" fill="#B047A1"/>
<circle cx="401.1" cy="769.1" r="6.05" fill="#EE5426"/>
<circle cx="411.7" cy="772.5" r="6.05" fill="#D1A2CD"/>
<circle cx="408.6" cy="778.7" r="6.05" fill="#416A31"/>
<circle cx="405.2" cy="786.2" r="6.05" fill="#EE5426"/>
<circle cx="413.4" cy="794.8" r="6.05" fill="#3A76C2"/>
<circle cx="386.3" cy="800.6" r="6.05" fill="#EE5426"/>
<circle cx="396.3" cy="803.7" r="6.05" fill="#D1A2CD"/>
<circle cx="401.1" cy="804.7" r="6.05" fill="#416A31"/>
<circle cx="431.2" cy="787.9" r="6.05" fill="#3A76C2"/>
<circle cx="429.9" cy="783.8" r="6.05" fill="#EE5426"/>
<circle cx="432.6" cy="785.2" r="6.05" fill="#EE5426"/>
<circle cx="456.5" cy="770.0" r="6.05" fill="#EE5426"/>
<circle cx="455.9" cy="767.7" r="6.05" fill="#416A31"/>
<circle cx="473.4" cy="771.8" r="6.05" fill="#D1A2CD"/>
<circle cx="458.7" cy="777.6" r="6.05" fill="#EE5426"/>
<circle cx="466.9" cy="779.0" r="6.05" fill="#D1A2CD"/>
<circle cx="451.8" cy="783.8" r="6.05" fill="#3A76C2"/>
<circle cx="451.1" cy="790.0" r="6.05" fill="#3A76C2"/>
<circle cx="449.8" cy="798.9" r="6.05" fill="#3A76C2"/>
<circle cx="455.2" cy="798.9" r="6.05" fill="#3A76C2"/>
<circle cx="470.3" cy="787.9" r="6.05" fill="#3A76C2"/>
<circle cx="463.5" cy="783.5" r="6.05" fill="#416A31"/>
<circle cx="482.3" cy="785.9" r="6.05" fill="#3A76C2"/>
<circle cx="466.2" cy="803.0" r="6.05" fill="#EE5426"/>
<circle cx="482.7" cy="809.9" r="6.05" fill="#3A76C2"/>
<circle cx="480.6" cy="806.4" r="6.05" fill="#416A31"/>
<circle cx="473.8" cy="811.2" r="6.05" fill="#EE5426"/>
<circle cx="488.2" cy="801.6" r="6.05" fill="#EE5426"/>
<circle cx="440.2" cy="815.0" r="6.05" fill="#EE5426"/>
<circle cx="433.0" cy="817.1" r="6.05" fill="#416A31"/>
<circle cx="450.4" cy="818.8" r="6.05" fill="#D1A2CD"/>
<circle cx="461.4" cy="814.0" r="6.05" fill="#D1A2CD"/>
<circle cx="471.0" cy="829.8" r="6.05" fill="#EE5426"/>
<circle cx="464.2" cy="827.0" r="6.05" fill="#D1A2CD"/>
<circle cx="477.2" cy="820.8" r="6.05" fill="#D1A2CD"/>
<circle cx="483.0" cy="821.5" r="6.05" fill="#EE5426"/>
<circle cx="477.2" cy="828.4" r="6.05" fill="#D1A2CD"/>
<path d="M70.3 1086.3L77.8 1099.5H62.8Z" fill="#416A31"/>
<path d="M75.9 1083.6L83.4 1096.8H68.4Z" fill="#EE5426"/>
<path d="M73.9 1082.1L81.4 1095.3H66.4Z" fill="#EE5426"/>
<path d="M88.1 1077.0L95.6 1090.2H80.6Z" fill="#416A31"/>
<path d="M77.6 1092.1L85.1 1105.3H70.1Z" fill="#416A31"/>
<path d="M94.5 1089.9L102.0 1103.1H87.0Z" fill="#EE5426"/>
<path d="M102.9 1097.4L110.4 1110.6H95.4Z" fill="#EE5426"/>
<path d="M95.6 1101.8L103.1 1115.0H88.1Z" fill="#EE5426"/>
<path d="M87.6 1096.5L95.1 1109.7H80.1Z" fill="#3A76C2"/>
<path d="M96.1 1096.3L103.6 1109.5H88.6Z" fill="#3A76C2"/>
<path d="M167.1 1098.6L174.6 1111.8H159.6Z" fill="#D1A2CD"/>
<path d="M188.0 1092.4L195.5 1105.6H180.5Z" fill="#D1A2CD"/>
<path d="M219.5 1087.5L227.0 1100.7H212.0Z" fill="#D1A2CD"/>
<path d="M229.3 1083.6L236.8 1096.8H221.8Z" fill="#D1A2CD"/>
<path d="M235.9 1086.7L243.4 1099.9H228.4Z" fill="#EE5426"/>
<path d="M244.8 1086.7L252.3 1099.9H237.3Z" fill="#EE5426"/>
<path d="M176.9 1129.7L184.4 1142.9H169.4Z" fill="#EE5426"/>
<path d="M180.9 1129.7L188.4 1142.9H173.4Z" fill="#416A31"/>
<path d="M178.2 1133.3L185.7 1146.5H170.7Z" fill="#D1A2CD"/>
<path d="M194.6 1128.8L202.1 1142.0H187.1Z" fill="#3A76C2"/>
<path d="M151.5 1136.4L159.0 1149.6H144.0Z" fill="#3A76C2"/>
<path d="M158.2 1145.7L165.7 1158.9H150.7Z" fill="#D1A2CD"/>
<path d="M160.9 1147.9L168.4 1161.1H153.4Z" fill="#D1A2CD"/>
<path d="M154.7 1149.7L162.2 1162.9H147.2Z" fill="#EE5426"/>
<path d="M171.5 1144.4L179.0 1157.6H164.0Z" fill="#D1A2CD"/>
<path d="M172.9 1146.2L180.4 1159.4H165.4Z" fill="#EE5426"/>
<path d="M177.7 1143.9L185.2 1157.1H170.2Z" fill="#3A76C2"/>
<path d="M194.2 1148.8L201.7 1162.0H186.7Z" fill="#3A76C2"/>
<path d="M202.2 1144.8L209.7 1158.0H194.7Z" fill="#3A76C2"/>
<path d="M224.4 1143.9L231.9 1157.1H216.9Z" fill="#3A76C2"/>
<path d="M191.5 1164.4L199.0 1177.6H184.0Z" fill="#D1A2CD"/>
<path d="M191.1 1167.5L198.6 1180.7H183.6Z" fill="#57B94A"/>
<path d="M200.4 1169.7L207.9 1182.9H192.9Z" fill="#EE5426"/>
<path d="M223.9 1156.4L231.4 1169.6H216.4Z" fill="#EE5426"/>
<path d="M224.4 1161.7L231.9 1174.9H216.9Z" fill="#416A31"/>
<path d="M222.6 1172.4L230.1 1185.6H215.1Z" fill="#416A31"/>
<path d="M235.5 1172.4L243.0 1185.6H228.0Z" fill="#EE5426"/>
<path d="M244.4 1157.3L251.9 1170.5H236.9Z" fill="#EE5426"/>
<path d="M245.2 1169.7L252.7 1182.9H237.7Z" fill="#EE5426"/>
<path d="M268.8 1069.2L276.3 1082.4H261.3Z" fill="#EE5426"/>
<path d="M275.3 1065.9L282.8 1079.1H267.8Z" fill="#416A31"/>
<path d="M286.2 1061.5L293.7 1074.7H278.7Z" fill="#EE5426"/>
<path d="M299.3 1061.0L306.8 1074.2H291.8Z" fill="#EE5426"/>
<path d="M310.8 1069.2L318.3 1082.4H303.3Z" fill="#D1A2CD"/>
<path d="M304.8 1065.4L312.3 1078.6H297.3Z" fill="#EE5426"/>
<path d="M316.2 1074.6L323.7 1087.8H308.7Z" fill="#416A31"/>
<path d="M322.2 1077.9L329.7 1091.1H314.7Z" fill="#57B94A"/>
<path d="M318.4 1064.8L325.9 1078.0H310.9Z" fill="#EE5426"/>
<path d="M339.6 1069.7L347.1 1082.9H332.1Z" fill="#EE5426"/>
<path d="M330.4 1080.6L337.9 1093.8H322.9Z" fill="#EE5426"/>
<path d="M236.6 1087.7L244.1 1100.9H229.1Z" fill="#EE5426"/>
<path d="M244.8 1087.2L252.3 1100.4H237.3Z" fill="#EE5426"/>
<path d="M264.4 1089.9L271.9 1103.1H256.9Z" fill="#EE5426"/>
<path d="M263.9 1084.4L271.4 1097.6H256.4Z" fill="#EE5426"/>
<path d="M264.4 1093.7L271.9 1106.9H256.9Z" fill="#3A76C2"/>
<path d="M261.7 1100.8L269.2 1114.0H254.2Z" fill="#3A76C2"/>
<path d="M284.6 1081.7L292.1 1094.9H277.1Z" fill="#EE5426"/>
<path d="M302.0 1086.1L309.5 1099.3H294.5Z" fill="#EE5426"/>
<path d="M311.8 1092.1L319.3 1105.3H304.3Z" fill="#EE5426"/>
<path d="M315.1 1098.1L322.6 1111.3H307.6Z" fill="#416A31"/>
<path d="M308.0 1096.4L315.5 1109.6H300.5Z" fill="#EE5426"/>
<path d="M333.1 1100.8L340.6 1114.0H325.6Z" fill="#416A31"/>
<path d="M297.1 1108.4L304.6 1121.6H289.6Z" fill="#416A31"/>
<path d="M299.9 1116.6L307.4 1129.8H292.4Z" fill="#EE5426"/>
<path d="M288.4 1116.6L295.9 1129.8H280.9Z" fill="#416A31"/>
<path d="M310.8 1115.5L318.3 1128.7H303.3Z" fill="#EE5426"/>
<path d="M322.2 1116.0L329.7 1129.2H314.7Z" fill="#416A31"/>
<path d="M257.9 1123.1L265.4 1136.3H250.4Z" fill="#EE5426"/>
<path d="M263.9 1136.8L271.4 1150.0H256.4Z" fill="#D1A2CD"/>
<path d="M273.2 1138.9L280.7 1152.1H265.7Z" fill="#EE5426"/>
<path d="M286.0 1151.0L293.5 1164.2H278.5Z" fill="#EE5426"/>
<path d="M281.3 1149.8L288.8 1163.0H273.8Z" fill="#416A31"/>
<path d="M291.1 1145.5L298.6 1158.7H283.6Z" fill="#416A31"/>
<path d="M314.0 1142.2L321.5 1155.4H306.5Z" fill="#EE5426"/>
<path d="M244.3 1157.5L251.8 1170.7H236.8Z" fill="#EE5426"/>
<path d="M270.4 1158.6L277.9 1171.8H262.9Z" fill="#EE5426"/>
<path d="M281.9 1159.6L289.4 1172.8H274.4Z" fill="#EE5426"/>
<path d="M291.7 1158.6L299.2 1171.8H284.2Z" fill="#EE5426"/>
<path d="M278.1 1162.9L285.6 1176.1H270.6Z" fill="#416A31"/>
<path d="M296.0 1164.0L303.5 1177.2H288.5Z" fill="#EE5426"/>
<path d="M299.9 1157.5L307.4 1170.7H292.4Z" fill="#416A31"/>
<path d="M316.2 1158.6L323.7 1171.8H308.7Z" fill="#EE5426"/>
<path d="M326.0 1155.3L333.5 1168.5H318.5Z" fill="#416A31"/>
<path d="M318.9 1164.0L326.4 1177.2H311.4Z" fill="#416A31"/>
<path d="M327.7 1168.4L335.2 1181.6H320.2Z" fill="#57B94A"/>
<path d="M328.2 1169.5L335.7 1182.7H320.7Z" fill="#EE5426"/>
<path d="M236.1 1172.7L243.6 1185.9H228.6Z" fill="#EE5426"/>
<path d="M244.8 1169.5L252.3 1182.7H237.3Z" fill="#EE5426"/>
<path d="M250.8 1172.2L258.3 1185.4H243.3Z" fill="#416A31"/>
<path d="M259.5 1172.7L267.0 1185.9H252.0Z" fill="#EE5426"/>
<path d="M257.9 1174.4L265.4 1187.6H250.4Z" fill="#416A31"/>
<path d="M275.3 1164.0L282.8 1177.2H267.8Z" fill="#416A31"/>
<path d="M273.7 1169.5L281.2 1182.7H266.2Z" fill="#416A31"/>
<path d="M283.0 1172.7L290.5 1185.9H275.5Z" fill="#EE5426"/>
<path d="M300.4 1174.9L307.9 1188.1H292.9Z" fill="#416A31"/>
<circle cx="1141.4" cy="768.7" r="6.05" fill="#B3B3B3"/>
<circle cx="1151.4" cy="772.8" r="6.05" fill="#B3B3B3"/>
<circle cx="1148.6" cy="778.3" r="6.05" fill="#03E33C"/>
<circle cx="1145.5" cy="786.2" r="6.05" fill="#8B00E4"/>
<circle cx="1153.8" cy="794.8" r="6.05" fill="#8B00E4"/>
<circle cx="1126.3" cy="800.6" r="6.05" fill="#03E33C"/>
<circle cx="1138.3" cy="804.4" r="6.05" fill="#03E33C"/>
<circle cx="1141.7" cy="804.4" r="6.05" fill="#03E33C"/>
<circle cx="1170.6" cy="783.1" r="6.05" fill="#03E33C"/>
<circle cx="1172.3" cy="787.9" r="6.05" fill="#03E33C"/>
<circle cx="1196.3" cy="767.3" r="6.05" fill="#03E33C"/>
<circle cx="1213.8" cy="771.8" r="6.05" fill="#03E33C"/>
<circle cx="1199.4" cy="778.3" r="6.05" fill="#03E33C"/>
<circle cx="1204.8" cy="780.4" r="6.05" fill="#03E33C"/>
<circle cx="1192.2" cy="783.8" r="6.05" fill="#B3B3B3"/>
<circle cx="1191.8" cy="791.4" r="6.05" fill="#03E33C"/>
<circle cx="1210.3" cy="787.9" r="6.05" fill="#03E33C"/>
<circle cx="1222.7" cy="785.9" r="6.05" fill="#03E33C"/>
<circle cx="1189.8" cy="798.9" r="6.05" fill="#03E33C"/>
<circle cx="1195.2" cy="798.9" r="6.05" fill="#03E33C"/>
<circle cx="1206.2" cy="802.3" r="6.05" fill="#03E33C"/>
<circle cx="1222.0" cy="807.1" r="6.05" fill="#03E33C"/>
<circle cx="1213.8" cy="811.2" r="6.05" fill="#03E33C"/>
<circle cx="1228.2" cy="801.6" r="6.05" fill="#CCDF00"/>
<circle cx="1173.3" cy="817.4" r="6.05" fill="#03E33C"/>
<circle cx="1180.2" cy="814.7" r="6.05" fill="#03E33C"/>
<circle cx="1190.8" cy="818.8" r="6.05" fill="#03E33C"/>
<circle cx="1201.4" cy="814.0" r="6.05" fill="#03E33C"/>
<circle cx="1204.8" cy="826.3" r="6.05" fill="#CCDF00"/>
<circle cx="1211.7" cy="829.8" r="6.05" fill="#CCDF00"/>
<circle cx="1217.2" cy="827.7" r="6.05" fill="#CCDF00"/>
<circle cx="1222.7" cy="820.8" r="6.05" fill="#CCDF00"/>
<circle cx="814.5" cy="1088.5" r="6.05" fill="#03E33C"/>
<circle cx="818.1" cy="1091.6" r="6.05" fill="#03E33C"/>
<circle cx="828.1" cy="1083.6" r="6.05" fill="#03E33C"/>
<circle cx="810.3" cy="1093.4" r="6.05" fill="#8B00E4"/>
<circle cx="818.1" cy="1100.5" r="6.05" fill="#03E33C"/>
<circle cx="835.0" cy="1093.9" r="6.05" fill="#03E33C"/>
<circle cx="827.4" cy="1104.5" r="6.05" fill="#03E33C"/>
<circle cx="844.3" cy="1104.1" r="6.05" fill="#CCDF00"/>
<circle cx="835.8" cy="1109.8" r="6.05" fill="#CCDF00"/>
<circle cx="836.1" cy="1102.3" r="6.05" fill="#8B00E4"/>
<circle cx="907.3" cy="1105.6" r="6.05" fill="#03E33C"/>
<circle cx="928.3" cy="1099.3" r="6.05" fill="#CCDF00"/>
<circle cx="959.7" cy="1094.6" r="6.05" fill="#B3B3B3"/>
<circle cx="969.7" cy="1090.4" r="6.05" fill="#B3B3B3"/>
<circle cx="976.0" cy="1093.6" r="6.05" fill="#8B00E4"/>
<circle cx="984.9" cy="1093.6" r="6.05" fill="#B3B3B3"/>
<circle cx="892.1" cy="1143.4" r="6.05" fill="#03E33C"/>
<circle cx="894.7" cy="1155.5" r="6.05" fill="#CCDF00"/>
<circle cx="901.0" cy="1155.5" r="6.05" fill="#CCDF00"/>
<circle cx="910.4" cy="1151.3" r="6.05" fill="#CCDF00"/>
<circle cx="918.3" cy="1137.1" r="6.05" fill="#03E33C"/>
<circle cx="920.9" cy="1136.6" r="6.05" fill="#03E33C"/>
<circle cx="917.8" cy="1151.3" r="6.05" fill="#03E33C"/>
<circle cx="934.6" cy="1136.1" r="6.05" fill="#03E33C"/>
<circle cx="934.6" cy="1155.5" r="6.05" fill="#03E33C"/>
<circle cx="942.4" cy="1151.8" r="6.05" fill="#03E33C"/>
<circle cx="964.5" cy="1150.8" r="6.05" fill="#03E33C"/>
<circle cx="963.9" cy="1162.8" r="6.05" fill="#03E33C"/>
<circle cx="963.9" cy="1169.1" r="6.05" fill="#03E33C"/>
<circle cx="931.4" cy="1171.8" r="6.05" fill="#03E33C"/>
<circle cx="940.9" cy="1177.0" r="6.05" fill="#03E33C"/>
<circle cx="962.9" cy="1179.1" r="6.05" fill="#03E33C"/>
<circle cx="975.5" cy="1179.1" r="6.05" fill="#03E33C"/>
<circle cx="984.4" cy="1163.9" r="6.05" fill="#03E33C"/>
<circle cx="986.0" cy="1177.5" r="6.05" fill="#03E33C"/>
<circle cx="1003.9" cy="1091.0" r="6.05" fill="#03E33C"/>
<circle cx="1004.4" cy="1095.9" r="6.05" fill="#CCDF00"/>
<circle cx="1004.4" cy="1100.8" r="6.05" fill="#B3B3B3"/>
<circle cx="1001.7" cy="1108.4" r="6.05" fill="#03E33C"/>
<circle cx="1009.9" cy="1075.2" r="6.05" fill="#03E33C"/>
<circle cx="1015.9" cy="1073.0" r="6.05" fill="#03E33C"/>
<circle cx="1026.8" cy="1068.6" r="6.05" fill="#03E33C"/>
<circle cx="1039.9" cy="1068.1" r="6.05" fill="#03E33C"/>
<circle cx="1045.8" cy="1073.5" r="6.05" fill="#03E33C"/>
<circle cx="1058.9" cy="1071.3" r="6.05" fill="#03E33C"/>
<circle cx="1058.9" cy="1079.5" r="6.05" fill="#03E33C"/>
<circle cx="1052.9" cy="1079.5" r="6.05" fill="#03E33C"/>
<circle cx="1080.2" cy="1076.3" r="6.05" fill="#03E33C"/>
<circle cx="1070.9" cy="1087.2" r="6.05" fill="#03E33C"/>
<circle cx="1025.1" cy="1088.2" r="6.05" fill="#03E33C"/>
<circle cx="1042.6" cy="1092.6" r="6.05" fill="#03E33C"/>
<circle cx="1052.4" cy="1098.6" r="6.05" fill="#03E33C"/>
<circle cx="1049.1" cy="1103.0" r="6.05" fill="#03E33C"/>
<circle cx="1055.1" cy="1105.1" r="6.05" fill="#03E33C"/>
<circle cx="1073.1" cy="1107.9" r="6.05" fill="#03E33C"/>
<circle cx="1037.1" cy="1115.0" r="6.05" fill="#03E33C"/>
<circle cx="1029.0" cy="1123.7" r="6.05" fill="#03E33C"/>
<circle cx="1040.4" cy="1120.4" r="6.05" fill="#03E33C"/>
<circle cx="1051.3" cy="1122.6" r="6.05" fill="#03E33C"/>
<circle cx="1062.7" cy="1122.6" r="6.05" fill="#03E33C"/>
<circle cx="998.4" cy="1130.2" r="6.05" fill="#03E33C"/>
<circle cx="1005.0" cy="1143.3" r="6.05" fill="#03E33C"/>
<circle cx="1013.7" cy="1146.0" r="6.05" fill="#03E33C"/>
<circle cx="1031.1" cy="1152.0" r="6.05" fill="#03E33C"/>
<circle cx="1021.9" cy="1156.4" r="6.05" fill="#03E33C"/>
<circle cx="1054.0" cy="1149.8" r="6.05" fill="#03E33C"/>
<circle cx="984.8" cy="1164.5" r="6.05" fill="#03E33C"/>
<circle cx="1011.0" cy="1165.1" r="6.05" fill="#03E33C"/>
<circle cx="1019.1" cy="1165.1" r="6.05" fill="#03E33C"/>
<circle cx="1039.3" cy="1164.0" r="6.05" fill="#03E33C"/>
<circle cx="1036.6" cy="1168.4" r="6.05" fill="#03E33C"/>
<circle cx="1066.6" cy="1161.8" r="6.05" fill="#03E33C"/>
<circle cx="1057.8" cy="1166.2" r="6.05" fill="#03E33C"/>
<circle cx="1068.7" cy="1175.4" r="6.05" fill="#03E33C"/>
<circle cx="976.1" cy="1179.2" r="6.05" fill="#03E33C"/>
<circle cx="985.9" cy="1177.1" r="6.05" fill="#03E33C"/>
<circle cx="997.9" cy="1180.3" r="6.05" fill="#03E33C"/>
<circle cx="1015.3" cy="1176.0" r="6.05" fill="#03E33C"/>
<circle cx="1023.0" cy="1180.3" r="6.05" fill="#03E33C"/>
<circle cx="1040.4" cy="1182.0" r="6.05" fill="#03E33C"/>
<circle cx="1000.1" cy="1178.2" r="6.05" fill="#03E33C"/>
<circle cx="1026.8" cy="1159.8" r="6.05" fill="#03E33C"/>
<circle cx="1022.7" cy="1168.4" r="6.05" fill="#03E33C"/>
<circle cx="1018.9" cy="1171.7" r="6.05" fill="#03E33C"/>
<circle cx="1059.7" cy="1172.8" r="6.05" fill="#03E33C"/>
<circle cx="991.6" cy="1181.0" r="6.05" fill="#03E33C"/>
<circle cx="1834.5" cy="769.1" r="6.05" fill="#B047A1"/>
<circle cx="1844.8" cy="772.8" r="6.05" fill="#B047A1"/>
<circle cx="1842.0" cy="779.0" r="6.05" fill="#7E5E28"/>
<circle cx="1839.0" cy="786.2" r="6.05" fill="#1B7A52"/>
<circle cx="1846.8" cy="794.8" r="6.05" fill="#1B7A52"/>
<circle cx="1819.7" cy="800.6" r="6.05" fill="#2FB150"/>
<circle cx="1830.4" cy="804.0" r="6.05" fill="#2FB150"/>
<circle cx="1834.5" cy="804.7" r="6.05" fill="#2FB150"/>
<circle cx="1863.3" cy="782.4" r="6.05" fill="#F3DD99"/>
<circle cx="1865.0" cy="786.2" r="6.05" fill="#7E5E28"/>
<circle cx="1889.7" cy="768.7" r="6.05" fill="#C7A1D3"/>
<circle cx="1906.9" cy="771.8" r="6.05" fill="#C7A1D3"/>
<circle cx="1895.0" cy="778.3" r="6.05" fill="#DCDCDC"/>
<circle cx="1899.0" cy="781.0" r="6.05" fill="#DCDCDC"/>
<circle cx="1903.8" cy="787.9" r="6.05" fill="#DCDCDC"/>
<circle cx="1885.6" cy="783.8" r="6.05" fill="#B047A1"/>
<circle cx="1916.1" cy="785.9" r="6.05" fill="#C7A1D3"/>
<circle cx="1884.6" cy="790.0" r="6.05" fill="#F3DD99"/>
<circle cx="1881.8" cy="799.6" r="6.05" fill="#4A7EC8"/>
<circle cx="1890.0" cy="798.9" r="6.05" fill="#6A3C9A"/>
<circle cx="1884.6" cy="796.2" r="6.05" fill="#2FB150"/>
<circle cx="1900.0" cy="802.7" r="6.05" fill="#4A7EC8"/>
<circle cx="1916.1" cy="807.1" r="6.05" fill="#6BBE45"/>
<circle cx="1907.2" cy="811.2" r="6.05" fill="#6BBE45"/>
<circle cx="1894.8" cy="814.0" r="6.05" fill="#6BBE45"/>
<circle cx="1921.9" cy="801.6" r="6.05" fill="#555555"/>
<circle cx="1866.0" cy="817.4" r="6.05" fill="#7E56A8"/>
<circle cx="1873.6" cy="814.7" r="6.05" fill="#7E56A8"/>
<circle cx="1883.9" cy="818.8" r="6.05" fill="#7E56A8"/>
<circle cx="1912.0" cy="820.8" r="6.05" fill="#7E56A8"/>
<circle cx="1916.1" cy="820.8" r="6.05" fill="#7E56A8"/>
<circle cx="1898.3" cy="826.7" r="6.05" fill="#555555"/>
<circle cx="1906.5" cy="829.8" r="6.05" fill="#C84A28"/>
<circle cx="1910.6" cy="827.7" r="6.05" fill="#C84A28"/>
<circle cx="1507.1" cy="1088.1" r="6.05" fill="#DCDCDC"/>
<circle cx="1509.3" cy="1091.2" r="6.05" fill="#2FB150"/>
<circle cx="1503.3" cy="1093.6" r="6.05" fill="#1B7A52"/>
<circle cx="1521.3" cy="1084.1" r="6.05" fill="#2FB150"/>
<circle cx="1511.5" cy="1100.1" r="6.05" fill="#6A3C9A"/>
<circle cx="1528.0" cy="1093.4" r="6.05" fill="#DCDCDC"/>
<circle cx="1520.0" cy="1103.2" r="6.05" fill="#F3DD99"/>
<circle cx="1537.3" cy="1104.5" r="6.05" fill="#7E56A8"/>
<circle cx="1529.3" cy="1109.8" r="6.05" fill="#6A3C9A"/>
<circle cx="1529.5" cy="1102.3" r="6.05" fill="#1B7A52"/>
<circle cx="1600.5" cy="1105.7" r="6.05" fill="#C7A1D3"/>
<circle cx="1621.8" cy="1099.7" r="6.05" fill="#555555"/>
<circle cx="1652.8" cy="1094.8" r="6.05" fill="#B047A1"/>
<circle cx="1663.2" cy="1090.4" r="6.05" fill="#B047A1"/>
<circle cx="1669.2" cy="1093.7" r="6.05" fill="#1B7A52"/>
<circle cx="1678.4" cy="1093.7" r="6.05" fill="#B047A1"/>
<circle cx="1585.3" cy="1143.3" r="6.05" fill="#DCDCDC"/>
<circle cx="1595.1" cy="1155.3" r="6.05" fill="#7E56A8"/>
<circle cx="1587.4" cy="1155.3" r="6.05" fill="#C84A28"/>
<circle cx="1603.8" cy="1150.9" r="6.05" fill="#C84A28"/>
<circle cx="1612.5" cy="1136.7" r="6.05" fill="#6BBE45"/>
<circle cx="1614.7" cy="1136.2" r="6.05" fill="#6BBE45"/>
<circle cx="1611.4" cy="1150.9" r="6.05" fill="#2FB150"/>
<circle cx="1627.8" cy="1136.2" r="6.05" fill="#6BBE45"/>
<circle cx="1635.9" cy="1151.5" r="6.05" fill="#4A7EC8"/>
<circle cx="1627.2" cy="1155.8" r="6.05" fill="#7E56A8"/>
<circle cx="1657.7" cy="1150.9" r="6.05" fill="#C7A1D3"/>
<circle cx="1657.7" cy="1162.9" r="6.05" fill="#2FB150"/>
<circle cx="1657.7" cy="1168.9" r="6.05" fill="#2FB150"/>
<circle cx="1625.0" cy="1172.2" r="6.05" fill="#7E56A8"/>
<circle cx="1634.3" cy="1177.1" r="6.05" fill="#7E56A8"/>
<circle cx="1656.1" cy="1179.2" r="6.05" fill="#2FB150"/>
<circle cx="1669.2" cy="1179.2" r="6.05" fill="#2FB150"/>
<circle cx="1677.9" cy="1164.5" r="6.05" fill="#2FB150"/>
<circle cx="1679.0" cy="1177.1" r="6.05" fill="#2FB150"/>
<circle cx="1685.5" cy="1180.3" r="6.05" fill="#4A7EC8"/>
<circle cx="1702.6" cy="1075.7" r="6.05" fill="#DCDCDC"/>
<circle cx="1709.1" cy="1073.0" r="6.05" fill="#F3DD99"/>
<circle cx="1720.0" cy="1068.1" r="6.05" fill="#F3DD99"/>
<circle cx="1732.6" cy="1067.5" r="6.05" fill="#DCDCDC"/>
<circle cx="1739.1" cy="1072.4" r="6.05" fill="#DCDCDC"/>
<circle cx="1751.6" cy="1070.3" r="6.05" fill="#DCDCDC"/>
<circle cx="1751.6" cy="1079.5" r="6.05" fill="#DCDCDC"/>
<circle cx="1745.7" cy="1078.4" r="6.05" fill="#DCDCDC"/>
<circle cx="1773.4" cy="1076.3" r="6.05" fill="#DCDCDC"/>
<circle cx="1764.2" cy="1087.2" r="6.05" fill="#DCDCDC"/>
<circle cx="1718.4" cy="1088.2" r="6.05" fill="#DCDCDC"/>
<circle cx="1735.8" cy="1092.6" r="6.05" fill="#DCDCDC"/>
<circle cx="1746.2" cy="1097.0" r="6.05" fill="#DCDCDC"/>
<circle cx="1741.3" cy="1103.0" r="6.05" fill="#C7A1D3"/>
<circle cx="1748.4" cy="1105.1" r="6.05" fill="#2FB150"/>
<circle cx="1766.4" cy="1107.9" r="6.05" fill="#C7A1D3"/>
<circle cx="1697.2" cy="1090.4" r="6.05" fill="#7E5E28"/>
<circle cx="1697.7" cy="1095.9" r="6.05" fill="#555555"/>
<circle cx="1697.7" cy="1100.2" r="6.05" fill="#B047A1"/>
<circle cx="1694.4" cy="1108.4" r="6.05" fill="#7E5E28"/>
<circle cx="1730.4" cy="1115.0" r="6.05" fill="#2FB150"/>
<circle cx="1722.2" cy="1123.7" r="6.05" fill="#2FB150"/>
<circle cx="1733.1" cy="1120.4" r="6.05" fill="#2FB150"/>
<circle cx="1744.6" cy="1122.6" r="6.05" fill="#2FB150"/>
<circle cx="1756.0" cy="1122.6" r="6.05" fill="#2FB150"/>
<circle cx="1691.7" cy="1130.2" r="6.05" fill="#2FB150"/>
<circle cx="1697.7" cy="1143.3" r="6.05" fill="#2FB150"/>
<circle cx="1707.0" cy="1146.0" r="6.05" fill="#2FB150"/>
<circle cx="1724.4" cy="1152.0" r="6.05" fill="#2FB150"/>
<circle cx="1715.1" cy="1156.4" r="6.05" fill="#2FB150"/>
<circle cx="1747.8" cy="1149.8" r="6.05" fill="#2FB150"/>
<circle cx="1678.1" cy="1164.5" r="6.05" fill="#2FB150"/>
<circle cx="1703.7" cy="1165.1" r="6.05" fill="#2FB150"/>
<circle cx="1711.9" cy="1165.1" r="6.05" fill="#2FB150"/>
<circle cx="1732.6" cy="1164.0" r="6.05" fill="#2FB150"/>
<circle cx="1729.9" cy="1168.4" r="6.05" fill="#2FB150"/>
<circle cx="1759.8" cy="1161.8" r="6.05" fill="#2FB150"/>
<circle cx="1751.1" cy="1166.2" r="6.05" fill="#2FB150"/>
<circle cx="1762.0" cy="1175.4" r="6.05" fill="#2FB150"/>
<circle cx="1668.8" cy="1179.2" r="6.05" fill="#2FB150"/>
<circle cx="1678.6" cy="1177.1" r="6.05" fill="#2FB150"/>
<circle cx="1686.8" cy="1179.2" r="6.05" fill="#4A7EC8"/>
<circle cx="1692.8" cy="1178.2" r="6.05" fill="#4A7EC8"/>
<circle cx="1691.2" cy="1181.4" r="6.05" fill="#2FB150"/>
<circle cx="1708.1" cy="1176.0" r="6.05" fill="#2FB150"/>
<circle cx="1716.2" cy="1180.3" r="6.05" fill="#2FB150"/>
<circle cx="1733.7" cy="1182.0" r="6.05" fill="#2FB150"/>
<circle cx="1719.7" cy="1159.8" r="6.05" fill="#2FB150"/>
<circle cx="1715.6" cy="1168.4" r="6.05" fill="#2FB150"/>
<circle cx="1725.4" cy="1167.4" r="6.05" fill="#2FB150"/>
<circle cx="1711.8" cy="1171.7" r="6.05" fill="#2FB150"/>
<circle cx="1752.6" cy="1172.8" r="6.05" fill="#2FB150"/>
<circle cx="1684.3" cy="1181.0" r="6.05" fill="#2FB150"/>
<path d="M272.4 384.1L241.5 412.5" fill="none" stroke="#000" stroke-width="1.4"/>
<path d="M232.1 420.8L239.0 401.1L243.7 411.3L252.1 415.3Z" fill="#000"/>
<text class="lt" x="538.6" y="133.1">Hemisphere</text><circle cx="554.8" cy="152.0" r="7.8" fill="#000"/><text class="li" x="565.5" y="158.0">L</text><path d="M554.8 172.2L565.1 189.5H544.5Z" fill="#000"/><text class="li" x="565.5" y="189.6">R</text>
<text class="lt" x="538.6" y="236.7">Cell type</text>
<circle cx="554.9" cy="264.9" r="7.8" fill="#D1A2CD"/><text class="li" x="565.3" y="271.5">Bulk</text>
<circle cx="554.9" cy="296.6" r="7.8" fill="#3A76C2"/><text class="li" x="565.3" y="303.2">COUPTF2</text>
<circle cx="554.9" cy="328.3" r="7.8" fill="#9C4426"/><text class="li" x="565.3" y="334.9">DARPP32M−NeuNP</text>
<circle cx="554.9" cy="360.0" r="7.8" fill="#4B1966"/><text class="li" x="565.3" y="366.6">DARPP32P−NeuNP</text>
<circle cx="554.9" cy="391.7" r="7.8" fill="#EE5426"/><text class="li" x="565.3" y="398.3">DLX1</text>
<circle cx="554.9" cy="423.4" r="7.8" fill="#F7DA0A"/><text class="li" x="565.3" y="430.0">LHX2</text>
<circle cx="554.9" cy="455.1" r="7.8" fill="#57B94A"/><text class="li" x="565.3" y="461.7">NeuN</text>
<circle cx="554.9" cy="486.8" r="7.8" fill="#13968F"/><text class="li" x="565.3" y="493.4">Olig2</text>
<circle cx="554.9" cy="518.5" r="7.8" fill="#878787"/><text class="li" x="565.3" y="525.1">PU.1</text>
<circle cx="554.9" cy="550.2" r="7.8" fill="#416A31"/><text class="li" x="565.3" y="556.8">TBR1</text>
<text class="lt" x="538.6" y="853.1">Hemisphere</text><circle cx="554.8" cy="872.0" r="7.8" fill="#000"/><text class="li" x="565.5" y="878.0">L</text><path d="M554.8 892.2L565.1 909.5H544.5Z" fill="#000"/><text class="li" x="565.5" y="909.6">R</text>
<text class="lt" x="538.6" y="955.3">Cell type</text>
<circle cx="554.6" cy="975.8" r="7.8" fill="#D1A2CD"/><text class="li" x="565.0" y="982.4">Bulk</text>
<circle cx="554.6" cy="1007.3" r="7.8" fill="#3A76C2"/><text class="li" x="565.0" y="1013.9">COUPTF2</text>
<circle cx="554.6" cy="1038.9" r="7.8" fill="#EE5426"/><text class="li" x="565.0" y="1045.5">DLX1</text>
<circle cx="554.6" cy="1070.5" r="7.8" fill="#57B94A"/><text class="li" x="565.0" y="1077.1">NeuN</text>
<circle cx="554.6" cy="1102.0" r="7.8" fill="#416A31"/><text class="li" x="565.0" y="1108.6">TBR1</text>
<text class="lt" x="1273.7" y="219.3">Region</text>
<circle cx="1290.2" cy="247.8" r="7.8" fill="#66C2A5"/><text class="li" x="1316.5" y="254.4">AMG</text>
<circle cx="1290.2" cy="280.2" r="7.8" fill="#CCDF00"/><text class="li" x="1316.5" y="286.8">BG</text>
<circle cx="1290.2" cy="312.6" r="7.8" fill="#8DA0CB"/><text class="li" x="1316.5" y="319.2">CB</text>
<circle cx="1290.2" cy="345.0" r="7.8" fill="#E78AC3"/><text class="li" x="1316.5" y="351.6">CLO</text>
<circle cx="1290.2" cy="377.4" r="7.8" fill="#03E33C"/><text class="li" x="1316.5" y="384.0">CTX</text>
<circle cx="1290.2" cy="409.8" r="7.8" fill="#8B00E4"/><text class="li" x="1316.5" y="416.4">HIP</text>
<circle cx="1290.2" cy="442.2" r="7.8" fill="#E5C494"/><text class="li" x="1316.5" y="448.8">SUB</text>
<circle cx="1290.2" cy="474.6" r="7.8" fill="#B3B3B3"/><text class="li" x="1316.5" y="481.2">THAL</text>
<text class="lt" x="1273.7" y="872.5">Region</text>
<circle cx="1290.6" cy="901.7" r="7.8" fill="#CCDF00"/><text class="li" x="1317.3" y="908.3">BG</text>
<circle cx="1290.6" cy="934.5" r="7.8" fill="#03E33C"/><text class="li" x="1317.3" y="941.1">CTX</text>
<circle cx="1290.6" cy="967.3" r="7.8" fill="#8B00E4"/><text class="li" x="1317.3" y="973.9">HIP</text>
<circle cx="1290.6" cy="1000.1" r="7.8" fill="#B3B3B3"/><text class="li" x="1317.3" y="1006.7">THAL</text>
<text class="ls" x="1976.3" y="172.3">Subregion</text>
<circle cx="1976.3" cy="198.8" r="7.8" fill="#7E56A8"/><text class="li" x="1989.5" y="205.4">Amg</text>
<circle cx="1976.3" cy="230.5" r="7.8" fill="#4A7EC8"/><text class="li" x="1989.5" y="237.1">CA1</text>
<circle cx="1976.3" cy="262.1" r="7.8" fill="#7E5E28"/><text class="li" x="1989.5" y="268.7">CA3</text>
<circle cx="1976.3" cy="293.8" r="7.8" fill="#6A3C9A"/><text class="li" x="1989.5" y="300.4">Cau</text>
<circle cx="1976.3" cy="325.4" r="7.8" fill="#555555"/><text class="li" x="1989.5" y="332.0">Cb</text>
<circle cx="1976.3" cy="357.1" r="7.8" fill="#1B7A52"/><text class="li" x="1989.5" y="363.7">Clo</text>
<circle cx="1976.3" cy="388.7" r="7.8" fill="#6BBE45"/><text class="li" x="1989.5" y="395.3">DG</text>
<circle cx="1976.3" cy="420.4" r="7.8" fill="#F3DD99"/><text class="li" x="1992.5" y="427.0">F</text>
<circle cx="1976.3" cy="452.0" r="7.8" fill="#DCDCDC"/><text class="li" x="1989.5" y="458.6">GP</text>
<circle cx="2074.9" cy="198.8" r="7.8" fill="#2FB150"/><text class="li" x="2087.6" y="205.4">Hip</text>
<circle cx="2074.9" cy="230.5" r="7.8" fill="#C84A28"/><text class="li" x="2087.6" y="237.1">Ins</text>
<circle cx="2074.9" cy="262.1" r="7.8" fill="#C7A1D3"/><text class="li" x="2090.6" y="268.7">O</text>
<circle cx="2074.9" cy="293.8" r="7.8" fill="#B047A1"/><text class="li" x="2090.6" y="300.4">P</text>
<circle cx="2074.9" cy="325.4" r="7.8" fill="#2B4F9A"/><text class="li" x="2087.6" y="332.0">PF</text>
<circle cx="2074.9" cy="357.1" r="7.8" fill="#F8A61E"/><text class="li" x="2087.6" y="363.7">Put</text>
<circle cx="2074.9" cy="388.7" r="7.8" fill="#F4A1A0"/><text class="li" x="2087.6" y="395.3">Sub</text>
<circle cx="2074.9" cy="420.4" r="7.8" fill="#8AAA3B"/><text class="li" x="2090.6" y="427.0">T</text>
<circle cx="2074.9" cy="452.0" r="7.8" fill="#E8262B"/><text class="li" x="2087.6" y="458.6">Thal</text>
<text class="ls" x="1976.0" y="746.5">Subregion</text>
<circle cx="1976.9" cy="774.6" r="7.8" fill="#7E56A8"/><text class="li" x="1990.6" y="781.2">Cau</text>
<circle cx="1976.9" cy="806.7" r="7.8" fill="#4A7EC8"/><text class="li" x="1990.6" y="813.3">CC</text>
<circle cx="1976.9" cy="838.8" r="7.8" fill="#7E5E28"/><text class="li" x="1990.6" y="845.4">EC</text>
<circle cx="1976.9" cy="870.9" r="7.8" fill="#6A3C9A"/><text class="li" x="1993.6" y="877.5">F</text>
<circle cx="1976.9" cy="903.0" r="7.8" fill="#555555"/><text class="li" x="1990.6" y="909.6">GP</text>
<circle cx="1976.9" cy="935.1" r="7.8" fill="#1B7A52"/><text class="li" x="1990.6" y="941.7">Hip</text>
<circle cx="1976.9" cy="967.2" r="7.8" fill="#6BBE45"/><text class="li" x="1992.1" y="973.8">I</text>
<circle cx="1976.9" cy="999.3" r="7.8" fill="#F3DD99"/><text class="li" x="1990.6" y="1005.9">mO</text>
<circle cx="1976.9" cy="1031.4" r="7.8" fill="#DCDCDC"/><text class="li" x="1993.6" y="1038.0">O</text>
<circle cx="1976.9" cy="1063.5" r="7.8" fill="#2FB150"/><text class="li" x="1993.6" y="1070.1">P</text>
<circle cx="1976.9" cy="1095.6" r="7.8" fill="#C84A28"/><text class="li" x="1990.6" y="1102.2">Put</text>
<circle cx="1976.9" cy="1127.7" r="7.8" fill="#C7A1D3"/><text class="li" x="1993.6" y="1134.3">T</text>
<circle cx="1976.9" cy="1159.8" r="7.8" fill="#B047A1"/><text class="li" x="1990.6" y="1166.4">Thal</text>
</svg></body></html>
